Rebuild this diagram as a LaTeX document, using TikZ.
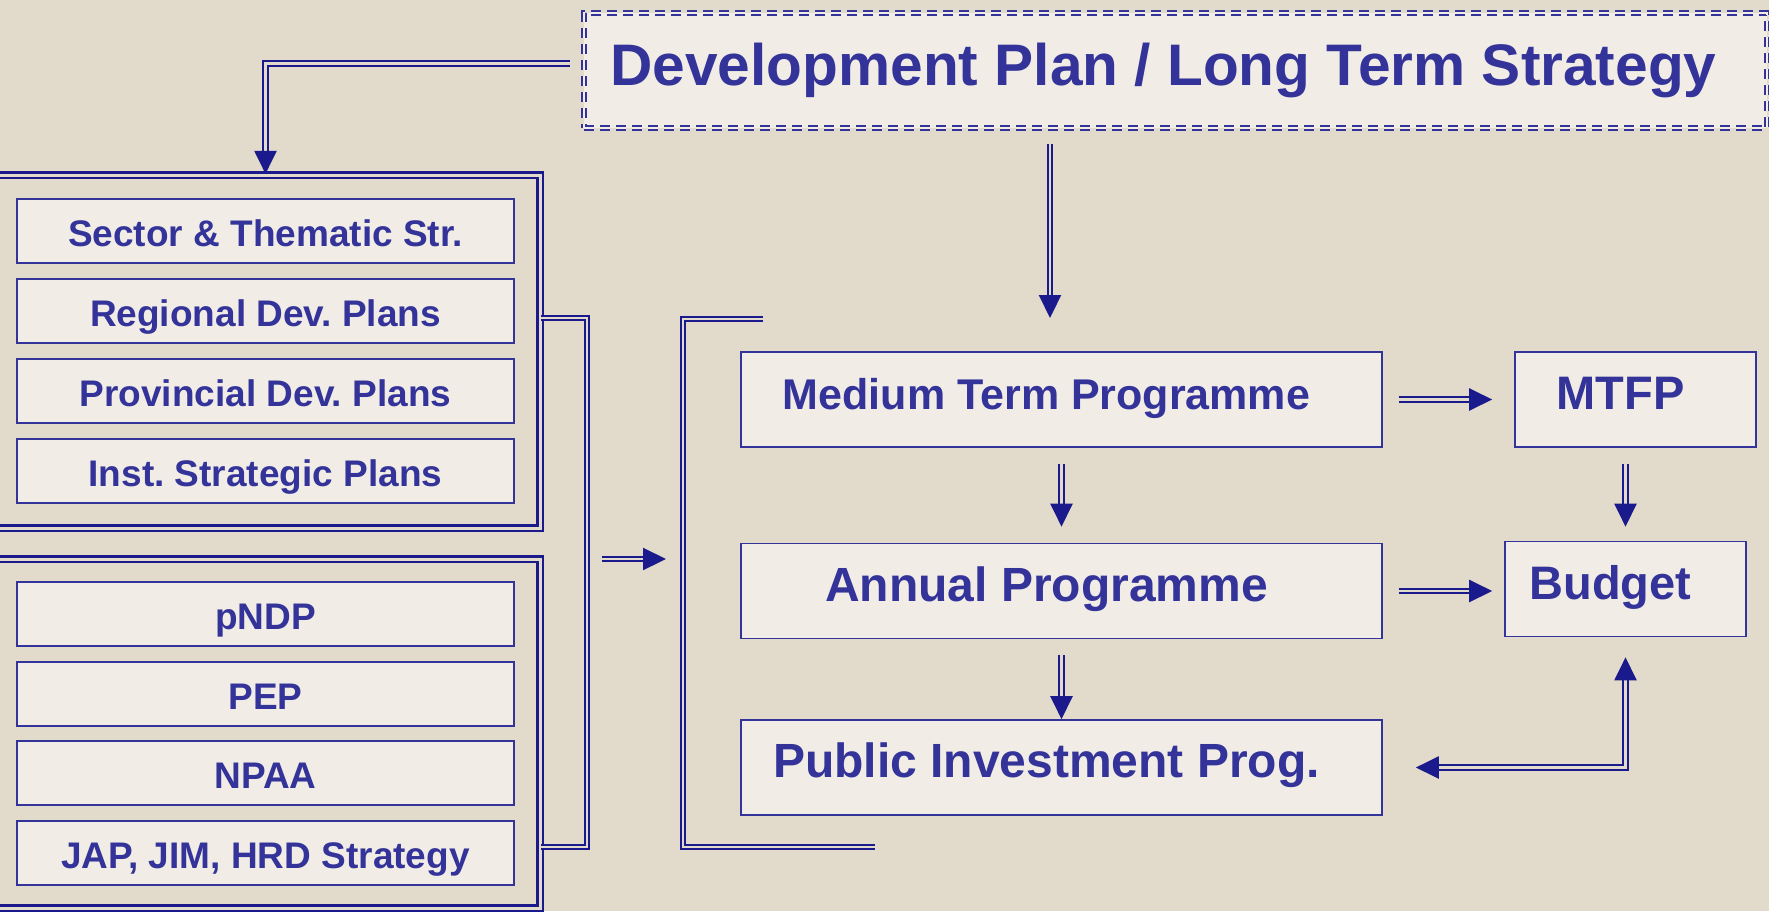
\documentclass[tikz,border=0pt]{standalone}
\usepackage{fontspec}
\setmainfont{Liberation Sans}
\usetikzlibrary{arrows.meta,positioning,calc}
\definecolor{bgbeige}{RGB}{226,218,203}
\definecolor{boxfill}{RGB}{241,237,230}
\definecolor{planblue}{RGB}{51,51,153}
\definecolor{framenavy}{RGB}{26,26,140}
\frenchspacing

\begin{document}
\begin{tikzpicture}[x=1pt, y=-1pt,
    planbox/.style={draw=planblue, line width=1.6pt, fill=boxfill, text=planblue, minimum width=497pt, minimum height=64pt, text height=30pt, text depth=0pt, font=\bfseries\fontsize{37}{44}\selectfont},
    progbox/.style={planbox, minimum width=641pt, minimum height=95pt, text height=34pt, text depth=14pt, font=\bfseries\fontsize{48}{56}\selectfont, execute at end node={\hspace{30pt}}},
    finbox/.style={progbox, minimum width=241pt, font=\bfseries\fontsize{47}{55}\selectfont},
    devbox/.style={draw=planblue, fill=boxfill, text=planblue, line width=2.2pt, double=boxfill, double distance=2pt, dash pattern=on 10pt off 6pt, minimum width=1183pt, minimum height=115pt, font=\bfseries\fontsize{58.6}{66}\selectfont, execute at end node={\hspace{24pt}}},
    grpframe/.style={draw=framenavy, double=bgbeige, line width=2.2pt, double distance=3pt},
    dbl/.style={draw=framenavy, double=bgbeige, line width=2.2pt, double distance=2.5pt},
    dblarrow/.style={dbl, -{Triangle[length=23pt, width=22pt]}}]

  % background
  \useasboundingbox (0,0) rectangle (1769,911);
  \fill[bgbeige] (0,0) rectangle (1769,911);
  \clip (0,0) rectangle (1769,911);

  % long term strategy
  \node[devbox] (dev) at (1175.5,70.5) {Development Plan / Long Term Strategy};

  % plans on the left
  \node[grpframe, minimum width=560pt, minimum height=353pt] (grpA) at (260,351.5) {};
  \node[planbox] (sec) at (265.5,231) {Sector \& Thematic Str.};
  \node[planbox] (rdp) at (265.5,311) {Regional Dev. Plans};
  \node[planbox] (pdp) at (265.5,391) {Provincial Dev. Plans};
  \node[planbox] (isp) at (265.5,471) {Inst. Strategic Plans};

  \node[grpframe, minimum width=560pt, minimum height=349pt] (grpB) at (260,733.5) {};
  \node[planbox] (pndp) at (265.5,614) {pNDP};
  \node[planbox] (pep) at (265.5,694) {PEP};
  \node[planbox] (npaa) at (265.5,773) {NPAA};
  \node[planbox] (jap) at (265.5,853) {JAP, JIM, HRD Strategy};

  % programmes
  \node[progbox, font=\bfseries\fontsize{43}{50}\selectfont] (mtp) at (1061.5,399.5) {Medium Term Programme};
  \node[progbox] (ap) at (1061.5,591) {Annual Programme};
  \node[progbox] (pip) at (1061.5,767.5) {Public Investment Prog.};
  \node[finbox] (mtfp) at (1635.5,399.5) {MTFP};
  \node[finbox] (bud) at (1625.5,589) {Budget};

  % brackets
  \coordinate (brA) at (587,318);
  \coordinate (brB) at (587,847);
  \draw[dbl] (grpA.east |- brA) -- (brA) -- (brB) -- (grpB.east |- brB);
  \coordinate (brC) at (683,319);
  \coordinate (brD) at (683,847);
  \coordinate (brCend) at (763,319);
  \coordinate (brDend) at (875,847);
  \draw[dbl] (brCend) -- (brC) -- (brD) -- (brDend);
  \coordinate (inTail) at (602,559);
  \coordinate (inTip) at (666,559);
  \draw[dblarrow] (inTail) -- (inTip);

  % arrows
  \draw[dblarrow] ($(dev.west)+(-13,-7)$) -| (grpA.north -| sec.north);
  \coordinate (devTip) at (1050,318);
  \draw[dblarrow] ($(dev.south -| devTip)+(0,15)$) -- (devTip);
  \draw[dblarrow, shorten <=16pt, shorten >=16pt] (mtp) -- (ap);
  \draw[dblarrow, shorten <=16pt] (ap) -- (pip);
  \draw[dblarrow, shorten <=16pt, shorten >=22pt] (mtp.east) -- (mtp.east -| mtfp.west);
  \draw[dblarrow, shorten <=16pt, shorten >=12pt] (ap.east) -- (ap.east -| bud.west);
  \draw[dblarrow, shorten <=16pt, shorten >=14pt] (mtfp.south -| bud.north) -- (bud.north);
  \draw[dbl, {Triangle[length=23pt, width=22pt]}-{Triangle[length=23pt, width=22pt]}, shorten <=33pt, shorten >=20pt] (pip.east) -| (bud.south);
\end{tikzpicture}
\end{document}
